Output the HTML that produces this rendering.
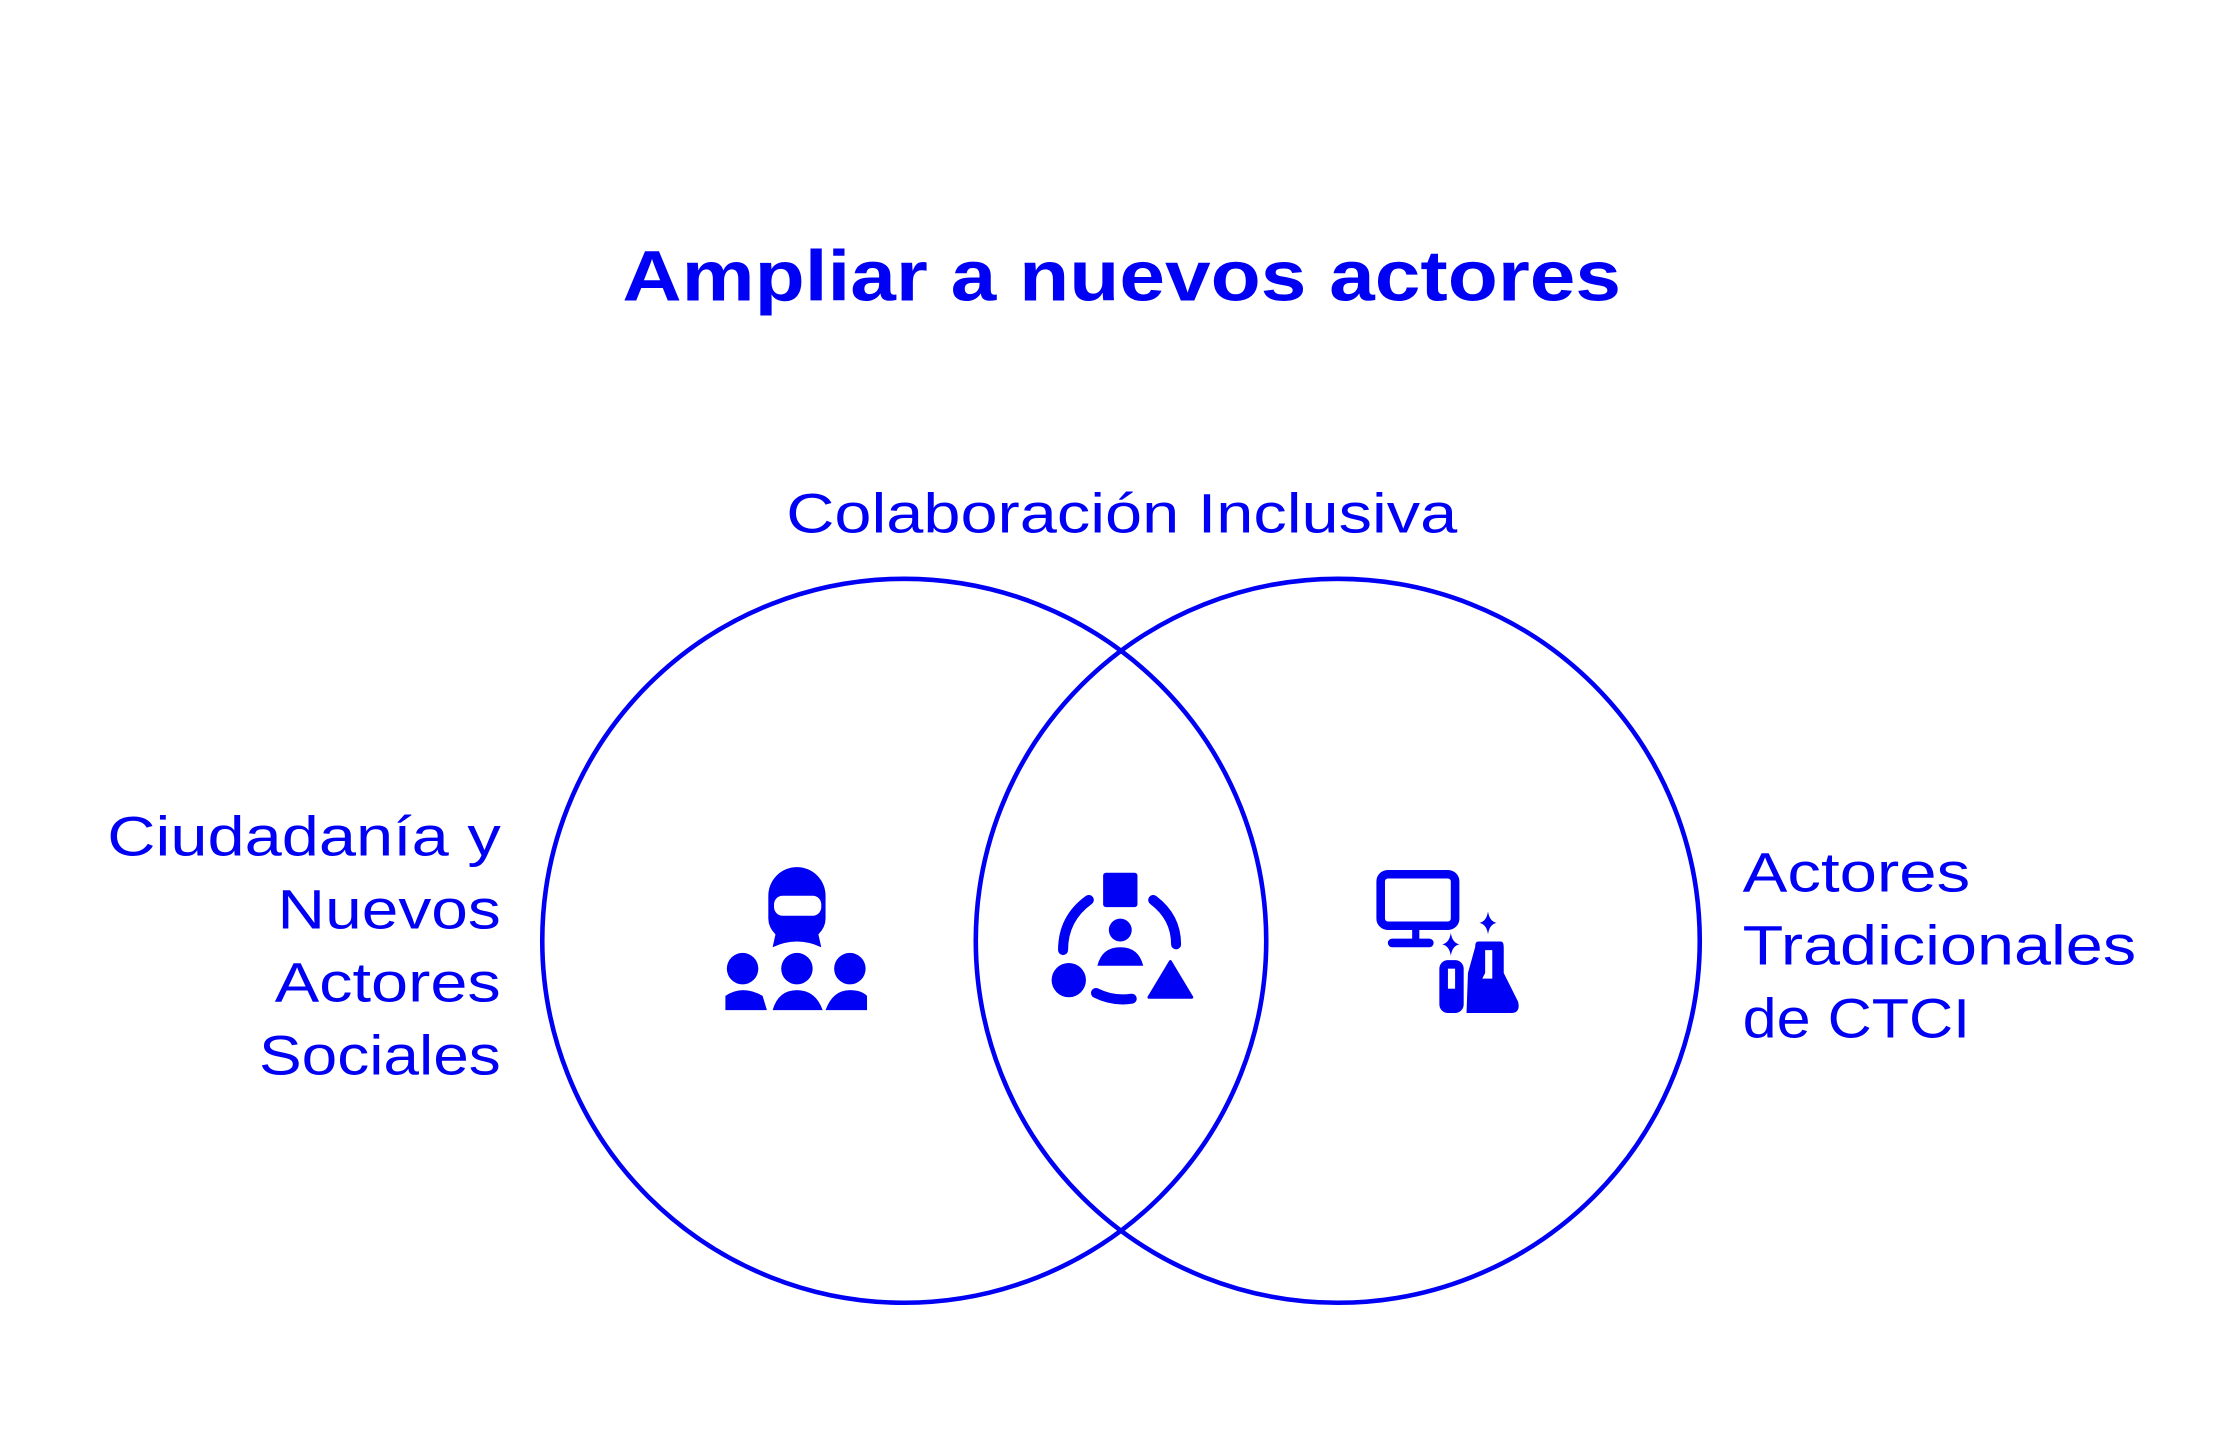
<!DOCTYPE html>
<html><head><meta charset="utf-8"><style>html,body{margin:0;padding:0;background:#fff}svg{display:block}</style></head>
<body>
<svg width="2232" height="1440" viewBox="0 0 1560 1006.4" xmlns="http://www.w3.org/2000/svg">
<rect width="1560" height="1006.4" fill="#fff"/>
<g font-family="'Liberation Sans', sans-serif" fill="#0000f5">
<text x="784" y="210" font-size="50" font-weight="bold" text-anchor="middle" textLength="698" lengthAdjust="spacingAndGlyphs">Ampliar a nuevos actores</text>
<text x="784" y="372" font-size="39" text-anchor="middle" textLength="469" lengthAdjust="spacingAndGlyphs">Colaboración Inclusiva</text>
<g font-size="39" text-anchor="end">
<text x="350" y="598" textLength="275" lengthAdjust="spacingAndGlyphs">Ciudadanía y</text>
<text x="350" y="649" textLength="156" lengthAdjust="spacingAndGlyphs">Nuevos</text>
<text x="350" y="700" textLength="158" lengthAdjust="spacingAndGlyphs">Actores</text>
<text x="350" y="751" textLength="169" lengthAdjust="spacingAndGlyphs">Sociales</text>
</g>
<g font-size="39">
<text x="1218" y="623" textLength="159" lengthAdjust="spacingAndGlyphs">Actores</text>
<text x="1218" y="674" textLength="275" lengthAdjust="spacingAndGlyphs">Tradicionales</text>
<text x="1218" y="725" textLength="159" lengthAdjust="spacingAndGlyphs">de CTCI</text>
</g>
</g>
<g fill="none" stroke="#0000f5" stroke-width="3.2">
<circle cx="632" cy="657.5" r="253"/>
<circle cx="935" cy="657.5" r="253"/>
</g>
<!-- people icon -->
<g fill="#0000f5">
<path d="M537 626 A20 20 0 0 1 577 626 L577 642 Q577 648 572 653 L574 662 Q557 654 540 662 L542 653 Q537 648 537 642 Z"/>
<rect x="541" y="626" width="33" height="14" rx="6" fill="#fff"/>
<circle cx="519" cy="677" r="11"/><circle cx="557" cy="677" r="11"/><circle cx="594" cy="677" r="11"/>
<path d="M507 706 L507 696 Q519 688 533 696 L536 706 Z"/>
<path d="M540 706 Q544 692 557 692 Q570 692 575 706 Z"/>
<path d="M577 706 Q582 692 594 692 Q602 692 606 696 L606 706 Z"/>
</g>
<!-- collaboration icon -->
<g fill="#0000f5">
<rect x="771" y="610" width="24" height="24" rx="2"/>
<circle cx="783" cy="650" r="8"/>
<path d="M767 675 Q770 662 783 662 Q796 662 799 675 Z"/>
<circle cx="747" cy="685" r="12"/>
<path d="M818 672 L833 697 L803 697 Z" stroke="#0000f5" stroke-width="2" stroke-linejoin="round"/>
<g fill="none" stroke="#0000f5" stroke-width="7" stroke-linecap="round">
<path d="M761 629 Q743 642 743 664"/>
<path d="M806 629 Q822 641 822 660"/>
<path d="M766 694 Q778 700 791 698"/>
</g>
</g>
<!-- CTCI icon -->
<g fill="#0000f5">
<rect x="965" y="611" width="52" height="36" rx="5" fill="none" stroke="#0000f5" stroke-width="6"/>
<rect x="987" y="647" width="5" height="10"/>
<rect x="970" y="656" width="32" height="6" rx="3"/>
<path d="M1040 637 Q1041 644 1046 645 Q1041 646 1040 653 Q1039 646 1034 645 Q1039 644 1040 637 Z"/>
<path d="M1014 652 Q1015 659 1020 660 Q1015 661 1014 668 Q1013 661 1008 660 Q1013 659 1014 652 Z"/>
<rect x="1006" y="671" width="17" height="37" rx="6"/>
<rect x="1012" y="677" width="5" height="14" fill="#fff"/>
<path d="M1033 658 L1049 658 Q1051 658 1051 662 L1051 680 L1061 700 Q1063 708 1056 708 L1025 708 L1026 680 L1031 662 Q1031 658 1033 658 Z"/>
<path d="M1038 664 L1043 664 L1043 684 L1036 684 L1038 680 Z" fill="#fff"/>
</g>
</svg>
</body></html>
